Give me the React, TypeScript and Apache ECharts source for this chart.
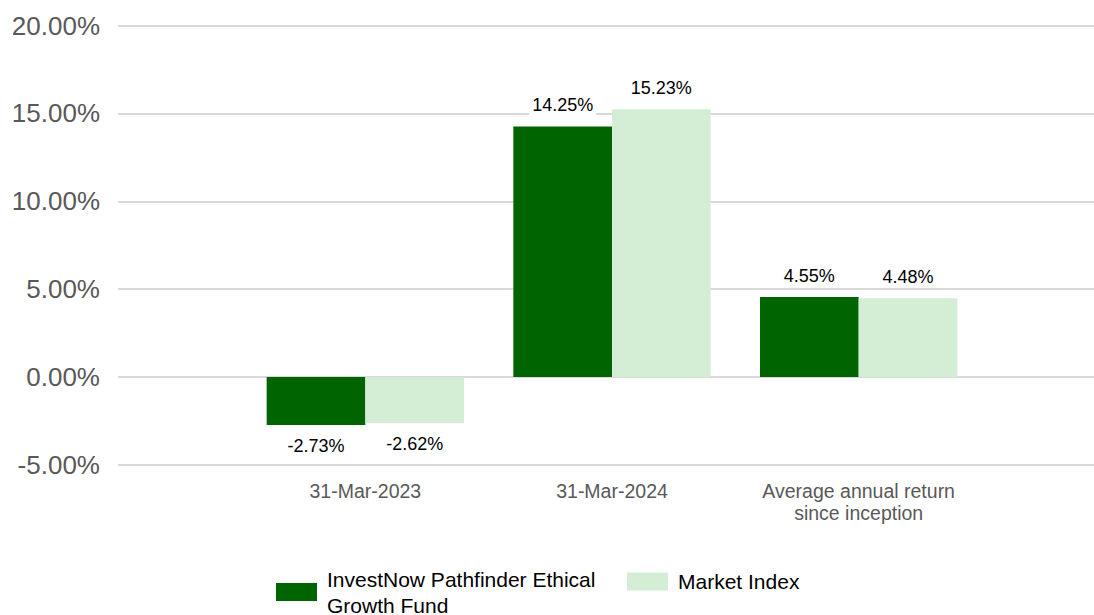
import React, { useEffect, useRef } from "react";
import * as echarts from "echarts";

const categories = ["31-Mar-2023", "31-Mar-2024", "Average annual return since inception"];
const fundName = "InvestNow Pathfinder Ethical Growth Fund";
const indexName = "Market Index";
const fundValues = [-2.73, 14.25, 4.55];
const indexValues = [-2.62, 15.23, 4.48];
const yMin = -5;
const yMax = 20;
const yInterval = 5;

const FONT = "'Liberation Sans', Arial, sans-serif";

function barData(values: number[]) {
  return values.map((v) => ({
    value: v,
    label: {
      show: true,
      position: v < 0 ? "bottom" : "top",
      distance: v < 0 ? 11 : 11.5,
      formatter: v.toFixed(2) + "%",
      fontSize: 18,
      fontFamily: FONT,
      color: "#000000",
      backgroundColor: "#ffffff",
      padding: [1, 3],
    },
  }));
}

const legendBase = {
  orient: "horizontal",
  icon: "rect",
  itemWidth: 41,
  itemHeight: 18,
  padding: 0,
  selectedMode: false,
  textStyle: {
    fontSize: 21,
    lineHeight: 26,
    fontFamily: FONT,
    color: "#000000",
    padding: [0, 0, 0, 5],
  },
};

export default function App() {
  const ref = useRef<HTMLDivElement>(null);
  useEffect(() => {
    if (!ref.current) return;
    const chart = echarts.init(ref.current, undefined, { renderer: "svg" });
    chart.setOption({
      animation: false,
      backgroundColor: "#ffffff",
      grid: [
        { left: 118, right: 0, top: 25.5, bottom: 150 },
        { left: 242, right: 112, top: 25.5, bottom: 150 },
      ],
      xAxis: [
        { type: "value", gridIndex: 0, show: false, min: 0, max: 1 },
        {
          type: "category",
          gridIndex: 1,
          data: categories,
          axisLine: { show: false, onZero: false },
          axisTick: { show: false },
          axisLabel: {
            fontSize: 19.5,
            lineHeight: 22,
            fontFamily: FONT,
            color: "#595959",
            margin: 15,
            interval: 0,
            formatter: (v: string) => v.replace("return ", "return\n"),
          },
        },
      ],
      yAxis: [
        {
          type: "value",
          gridIndex: 0,
          min: yMin,
          max: yMax,
          interval: yInterval,
          axisLine: { show: false },
          axisTick: { show: false },
          splitLine: { lineStyle: { color: "#d9d9d9", width: 2 } },
          axisLabel: {
            fontSize: 26,
            fontFamily: FONT,
            color: "#595959",
            margin: 18,
            formatter: (v: number) => v.toFixed(2) + "%",
          },
        },
        {
          type: "value",
          gridIndex: 1,
          min: yMin,
          max: yMax,
          interval: yInterval,
          show: false,
          splitLine: { show: false },
        },
      ],
      legend: [
        {
          ...legendBase,
          left: 276,
          top: 566,
          formatter: () => "InvestNow Pathfinder Ethical\nGrowth Fund",
          data: [fundName],
        },
        {
          ...legendBase,
          left: 627,
          top: 568.5,
          data: [indexName],
        },
      ],
      series: [
        {
          name: fundName,
          type: "bar",
          xAxisIndex: 1,
          yAxisIndex: 1,
          data: barData(fundValues),
          itemStyle: { color: "#006400" },
          barGap: "0%",
          barCategoryGap: "20%",
        },
        {
          name: indexName,
          type: "bar",
          xAxisIndex: 1,
          yAxisIndex: 1,
          data: barData(indexValues),
          itemStyle: { color: "#d3eed5" },
          barGap: "0%",
          barCategoryGap: "20%",
        },
      ],
    });
    return () => chart.dispose();
  }, []);
  return (
    <div
      ref={ref}
      style={{ position: "absolute", left: 0, top: 0, width: 1094, height: 615 }}
    />
  );
}
